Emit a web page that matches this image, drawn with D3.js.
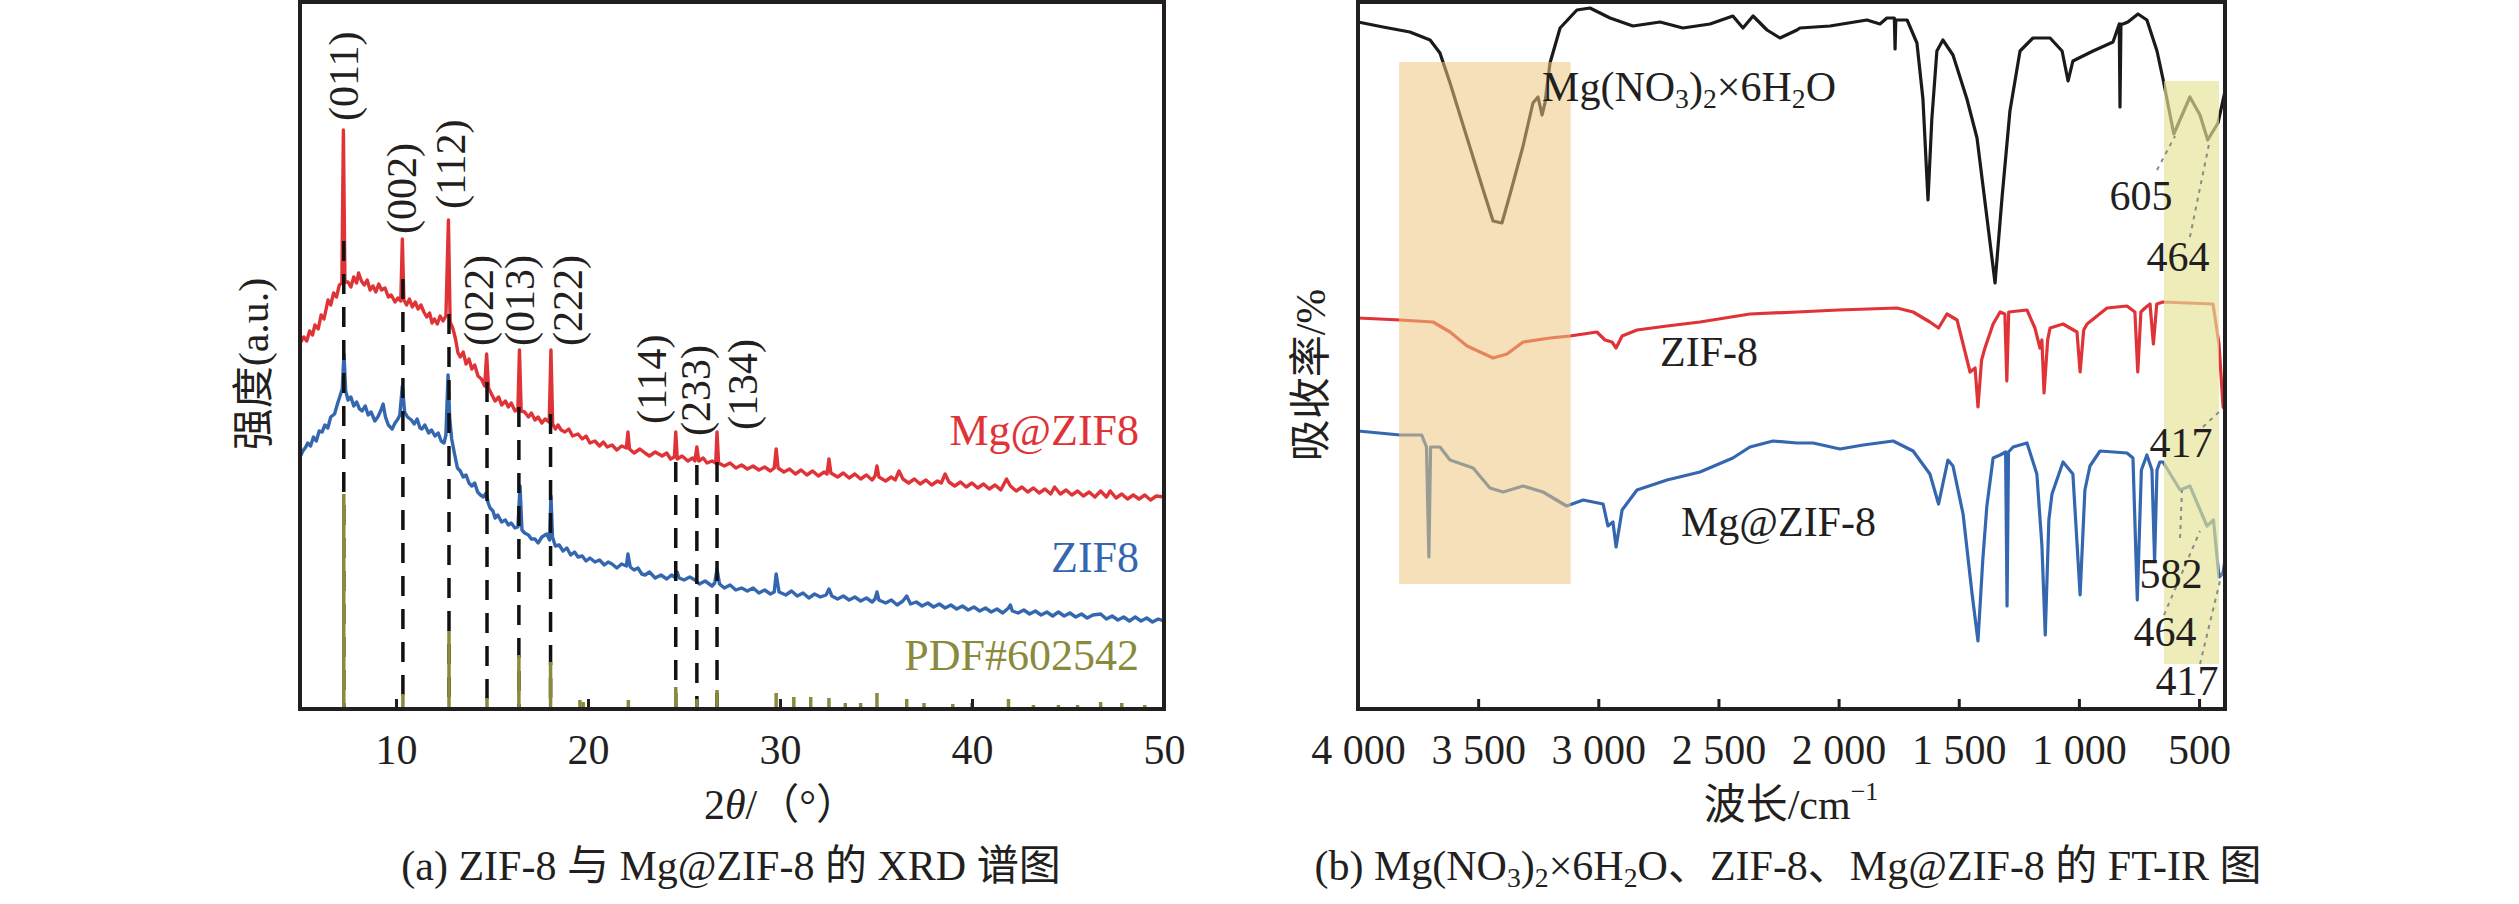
<!DOCTYPE html>
<html lang="zh">
<head>
  <meta charset="UTF-8">
  <title>XRD / FT-IR</title>
  <style>
    body { margin: 0; background: #fff; }
    svg { display: block; }
    text { font-family: "Liberation Serif", "Noto Sans CJK SC", serif; fill: #231f20; }
  </style>
  <script src="https://d3js.org/d3.v7.min.js"></script>
</head>
<body>
<script>
// ---- (a) XRD, 2theta vs intensity (a.u.) ----
var mgZif8Xrd = [[5.0,366],[5.2,372],[5.35,368],[5.5,378],[5.65,374],[5.78,384],[5.95,380],[6.1,394],[6.25,390],[6.46,409],
  [6.6,404],[6.75,416],[6.9,412],[7.05,424],[7.18,426],[7.26,579],[7.34,427],[7.5,427],[7.65,422],[7.8,432],[7.95,426],
  [8.05,436],[8.2,428],[8.35,424],[8.5,429],[8.65,419],[8.8,423],[8.95,417],[9.1,425],[9.25,419],[9.43,421],[9.6,412],
  [9.75,414],[9.95,407],[10.1,411],[10.25,408],[10.33,470],[10.41,409],[10.55,404],[10.7,410],[10.85,402],[11.0,407],
  [11.15,400],[11.3,404],[11.45,397],[11.6,392],[11.75,396],[11.88,386],[12.0,390],[12.15,385],[12.3,393],[12.45,388],
  [12.6,393],[12.73,489],[12.82,387],[12.97,380],[13.1,370],[13.23,356],[13.35,352],[13.5,357],[13.65,345],[13.8,350],
  [13.95,340],[14.1,344],[14.27,333],[14.45,330],[14.62,323],[14.72,355],[14.82,321],[15.0,314],[15.16,308],[15.35,312],
  [15.5,304],[15.7,308],[15.85,302],[16.0,306],[16.2,298],[16.35,300],[16.43,359],[16.52,298],[16.7,297],[16.9,292],
  [17.05,296],[17.24,289],[17.4,292],[17.6,286],[17.76,290],[17.98,287],[18.07,359],[18.16,285],[18.3,280],[18.44,284],
  [18.6,279],[18.8,277],[19.0,280],[19.2,273],[19.48,275],[19.7,270],[19.9,273],[20.1,266],[20.36,268],[20.6,263],
  [20.8,267],[21.0,262],[21.25,264],[21.5,259],[21.75,263],[22.0,261],[22.08,277],[22.16,260],[22.4,256],[22.7,260],
  [22.97,256],[23.2,253],[23.5,257],[23.86,253],[24.1,256],[24.3,250],[24.5,252],[24.57,277],[24.65,250],[24.9,253],
  [25.2,248],[25.45,251],[25.57,248],[25.67,262],[25.77,248],[26.0,251],[26.2,246],[26.46,248],[26.65,246],[26.72,277],
  [26.8,246],[27.1,243],[27.4,246],[27.7,241],[28.0,244],[28.3,240],[28.6,243],[28.9,239],[29.2,242],[29.5,238],[29.7,241],
  [29.8,260],[29.9,241],[30.2,237],[30.5,240],[30.8,235],[31.1,239],[31.4,234],[31.7,238],[32.0,233],[32.3,237],[32.45,235],
  [32.55,250],[32.65,236],[33.0,232],[33.3,236],[33.6,231],[33.9,235],[34.2,230],[34.5,234],[34.8,229],[34.95,233],
  [35.05,243],[35.15,232],[35.5,228],[35.8,232],[36.0,229],[36.2,238],[36.4,230],[36.7,226],[37.0,230],[37.3,225],
  [37.6,229],[37.9,224],[38.2,228],[38.4,226],[38.6,235],[38.8,227],[39.1,223],[39.4,227],[39.7,222],[40.0,226],
  [40.3,221],[40.6,225],[40.9,220],[41.2,224],[41.5,219],[41.8,230],[42.0,223],[42.3,218],[42.6,222],[42.9,217],
  [43.2,221],[43.5,216],[43.8,220],[44.1,215],[44.3,222],[44.6,215],[44.9,219],[45.2,214],[45.5,218],[45.8,213],
  [46.1,217],[46.4,212],[46.7,218],[47.0,212],[47.2,218],[47.5,211],[47.8,215],[48.1,210],[48.4,214],[48.7,210],
  [49.0,214],[49.3,209],[49.6,213],[50.0,212]];
var zif8Xrd = [[5.0,252],[5.15,258],[5.3,262],[5.4,266],[5.55,263],[5.7,272],[5.85,268],[6.0,278],[6.15,277],[6.3,284],
  [6.45,281],[6.6,292],[6.8,295],[6.95,305],[7.1,314],[7.2,320],[7.29,355],[7.38,318],[7.5,309],[7.65,312],[7.8,303],
  [7.95,307],[8.1,300],[8.23,298],[8.4,303],[8.55,294],[8.7,297],[8.9,288],[9.05,292],[9.2,298],[9.33,305],[9.45,292],
  [9.6,284],[9.8,280],[9.95,286],[10.1,290],[10.2,294],[10.33,323],[10.45,297],[10.6,292],[10.8,289],[10.95,285],
  [11.1,290],[11.25,281],[11.35,280],[11.5,284],[11.7,276],[11.85,279],[12.03,273],[12.2,276],[12.35,268],[12.5,266],
  [12.6,274],[12.71,334],[12.8,290],[12.9,270],[13.05,255],[13.2,241],[13.35,238],[13.5,232],[13.65,234],[13.8,226],
  [13.95,223],[14.1,226],[14.25,217],[14.4,214],[14.55,212],[14.7,216],[14.8,206],[14.9,201],[15.05,198],[15.16,191],
  [15.3,194],[15.5,187],[15.7,189],[15.85,184],[16.0,186],[16.2,181],[16.35,182],[16.46,223],[16.56,179],[16.7,176],
  [16.9,174],[17.05,170],[17.24,170],[17.4,166],[17.6,172],[17.85,175],[18.0,169],[18.07,213],[18.15,172],[18.3,163],
  [18.5,164],[18.7,158],[18.9,161],[19.1,154],[19.3,157],[19.48,152],[19.7,153],[19.9,148],[20.1,151],[20.36,147],
  [20.6,149],[20.85,144],[21.05,147],[21.25,145],[21.5,141],[21.75,145],[22.0,143],[22.08,155],[22.2,142],[22.4,139],
  [22.6,141],[22.8,135],[22.97,134],[23.2,137],[23.5,131],[23.8,134],[24.1,130],[24.35,134],[24.5,132],[24.64,137],
  [24.75,131],[25.0,129],[25.3,132],[25.57,129],[25.8,125],[26.1,128],[26.46,123],[26.6,126],[26.72,140],[26.85,125],
  [27.1,121],[27.4,124],[27.7,119],[28.0,121],[28.3,118],[28.6,121],[28.9,116],[29.2,119],[29.5,115],[29.7,117],
  [29.8,135],[29.95,117],[30.3,114],[30.6,118],[30.9,113],[31.2,116],[31.5,111],[31.8,115],[32.1,112],[32.4,114],
  [32.55,120],[32.7,113],[33.0,110],[33.3,113],[33.6,109],[33.9,112],[34.2,108],[34.5,111],[34.8,107],[34.95,110],
  [35.05,117],[35.15,109],[35.5,106],[35.8,109],[36.1,104],[36.4,108],[36.6,113],[36.8,105],[37.1,107],[37.4,103],
  [37.7,106],[38.0,102],[38.3,105],[38.6,101],[38.9,104],[39.2,100],[39.5,103],[39.8,99],[40.1,102],[40.4,98],
  [40.7,101],[41.0,97],[41.3,100],[41.6,96],[41.9,101],[42.0,104],[42.1,98],[42.4,96],[42.7,99],[43.0,95],[43.3,98],
  [43.6,94],[43.9,97],[44.2,93],[44.5,97],[44.8,93],[45.1,96],[45.4,92],[45.7,95],[46.0,91],[46.3,94],[46.7,95],
  [47.0,90],[47.3,93],[47.6,89],[47.9,92],[48.2,88],[48.5,92],[48.8,88],[49.1,91],[49.4,87],[49.7,90],[50.0,88]];
var pdfSticks = [[7.28,215],[10.36,15],[12.76,78],[14.74,11],[16.4,54],[18.05,47],[19.58,9],[19.75,7],[22.1,9],[24.57,22],
  [25.67,10],[26.72,19],[29.8,16],[30.72,12],[31.6,12],[32.55,11],[33.4,6],[34.2,6],[35.05,16],[36.6,10],[37.5,6],
  [39.0,5],[40.0,6],[41.9,10],[43.2,4],[44.5,4],[45.5,4],[46.7,7],[47.8,6],[49.0,4]];
var peakTheta = [7.28, 10.36, 12.76, 14.74, 16.4, 18.05, 24.57, 25.67, 26.72];
var peakTop = [468, 430, 395, 327, 302, 295, 247, 244, 247];
var hklLabels = ["(011)", "(002)", "(112)", "(022)", "(013)", "(222)", "(114)", "(233)", "(134)"];
var hklTheta = [7.28, 10.32, 12.84, 14.32, 16.45, 18.98, 23.32, 25.6, 28.06];
var hklBase = [588, 475, 500, 363, 363, 363, 285, 273, 279];
var xrdTicks = [10, 20, 30, 40, 50];
var xrdNames = ["Mg@ZIF8", "ZIF8", "PDF#602542"];
var xrdNameLevel = [279, 152, 54];

// ---- (b) FT-IR, wavenumber vs absorbance ----
var mgNitrateIr = [[4000,687],[3896,682],[3784,677],[3700,669],[3659,656],[3617,626],[3546,571],[3479,519],[3438,488],
  [3401,486],[3367,515],[3313,563],[3272,606],[3251,612],[3234,594],[3222,606],[3201,646],[3159,681],[3089,699],[3035,701],
  [2951,691],[2856,683],[2743,687],[2648,681],[2535,685],[2440,693],[2398,681],[2356,693],[2298,679],[2244,671],[2173,679],
  [2161,681],[2036,683],[1882,689],[1828,685],[1799,691],[1768,691],[1765,660],[1762,689],[1715,689],[1674,666],[1649,610],
  [1628,509],[1612,590],[1591,658],[1566,669],[1524,654],[1466,610],[1424,571],[1383,492],[1349,426],[1320,511],[1287,598],
  [1245,658],[1191,671],[1120,671],[1070,658],[1045,628],[1025,648],[941,658],[858,667],[832,685],[829,602],[825,685],
  [816,685],[796,687],[754,695],[717,689],[675,658],[650,630],[605,575],[538,612],[496,594],[464,569],[421,586],[392,618]];
var zif8Ir = [[4000,391],[3825,389],[3688,387],[3617,377],[3546,363],[3438,351],[3380,355],[3313,367],[3201,371],[3118,373],
  [3006,377],[2972,369],[2943,367],[2926,361],[2901,373],[2839,379],[2714,383],[2577,387],[2369,395],[2173,397],[2000,399],
  [1757,401],[1690,397],[1620,387],[1584,381],[1549,395],[1507,389],[1482,365],[1453,337],[1432,341],[1420,302],[1405,349],
  [1391,361],[1357,385],[1328,397],[1308,395],[1300,328],[1292,397],[1216,399],[1183,381],[1162,361],[1154,369],[1145,316],
  [1130,369],[1120,381],[1066,385],[1008,377],[995,337],[980,379],[966,385],[883,401],[800,403],[767,397],[755,337],
  [742,397],[725,401],[704,405],[690,365],[676,405],[650,407],[442,405],[417,365],[400,302],[392,299]];
var mgZif8Ir = [[4000,278],[3825,274],[3735,274],[3715,262],[3705,152],[3698,262],[3659,262],[3617,249],[3521,241],
  [3451,221],[3396,217],[3313,223],[3230,217],[3132,203],[3063,209],[2980,205],[2960,183],[2939,187],[2926,162],[2901,199],
  [2839,219],[2714,229],[2577,237],[2440,251],[2369,262],[2273,268],[2173,266],[2106,266],[1994,260],[1898,264],[1773,268],
  [1690,258],[1620,235],[1584,205],[1545,249],[1524,243],[1482,195],[1445,116],[1420,68],[1400,149],[1383,203],[1357,251],
  [1328,254],[1305,257],[1299,103],[1293,257],[1274,262],[1216,266],[1175,235],[1154,164],[1140,74],[1125,189],[1112,215],
  [1066,247],[1025,235],[995,114],[975,219],[954,243],[912,258],[800,256],[775,251],[757,109],[740,239],[717,254],
  [696,239],[685,148],[675,239],[663,247],[650,247],[579,219],[538,223],[467,183],[440,189],[417,132],[400,136],[392,149]];
var irTicks = [4000, 3500, 3000, 2500, 2000, 1500, 1000, 500];
var bandRanges = [[3829, 3115, 125, 647], [646, 417, 45, 628]];
var bandColors = ["rgb(237,199,128)", "rgb(230,227,149)"];
var bandOpacity = [0.55, 0.67];
var peakNumbers = ["605", "464", "417", "582", "464", "417"];
var peakNumberAt = [[742,513],[588,452],[575,266],[617,135],[642,77],[550,28]];
var leaderFrom = [[675,539],[538,472],[484,282],[579,171],[646,94],[496,45]];
var leaderTo = [[600,573],[455,569],[404,300],[571,219],[496,178],[404,137]];
var irNames = [
  [["Mg(NO",0],["3",1],[")",0],["2",1],["×6H",0],["2",1],["O",0]],
  [["ZIF-8",0]],
  [["Mg@ZIF-8",0]]
];
var irNameAt = [[3234,622],[2743,357],[2656,187]];

var red = "#df3337", blue = "#3467b0", olive = "#8a8a3c", ink = "#231f20";
var serif = "'Liberation Serif', 'Noto Sans CJK SC', serif";
var svg = d3.select("body").append("svg").attr("width", 2519).attr("height", 904);
svg.append("rect").attr("width", 2519).attr("height", 904).attr("fill", "#fff");

// subscripts drop by a quarter em, the next normal part comes back up
function richText(sel, parts, size) {
  var down = false;
  parts.forEach(function (p) {
    var t = sel.append("tspan").text(p[0]);
    if (p[1]) { t.attr("font-size", size * 0.66); if (!down) { t.attr("dy", size * 0.25); down = true; } }
    else if (down) { t.attr("dy", -size * 0.25); down = false; }
  });
}

// ================= panel (a) =================
var xA = d3.scaleLinear().domain([5, 50]).range([300, 1164]);
var yA = d3.scaleLinear().domain([0, 707]).range([709, 2]);
var lineA = d3.line().x(function (d) { return xA(d[0]); }).y(function (d) { return yA(d[1]); });

var ga = svg.append("g");
ga.append("path").datum(mgZif8Xrd).attr("d", lineA).attr("fill", "none")
  .attr("stroke", red).attr("stroke-width", 3.4).attr("stroke-linejoin", "round");
ga.append("path").datum(zif8Xrd).attr("d", lineA).attr("fill", "none")
  .attr("stroke", blue).attr("stroke-width", 3.4).attr("stroke-linejoin", "round");

ga.selectAll(".dash").data(peakTheta).enter().append("line")
  .attr("x1", function (d) { return xA(d); }).attr("x2", function (d) { return xA(d); })
  .attr("y1", function (d, i) { return yA(peakTop[i]); }).attr("y2", yA(0))
  .attr("stroke", "#111").attr("stroke-width", 3.5).attr("stroke-dasharray", "20,13");

ga.selectAll(".stick").data(pdfSticks).enter().append("line")
  .attr("x1", function (d) { return xA(d[0]); }).attr("x2", function (d) { return xA(d[0]); })
  .attr("y1", yA(0)).attr("y2", function (d) { return yA(d[1]); })
  .attr("stroke", olive).attr("stroke-width", 3.5);

ga.selectAll(".hkl").data(hklLabels).enter().append("text")
  .attr("transform", function (d, i) { return "translate(" + xA(hklTheta[i]) + "," + yA(hklBase[i]) + ") rotate(-90)"; })
  .attr("dominant-baseline", "central").attr("font-size", 42).text(function (d) { return d; });

ga.selectAll(".nm").data(xrdNames).enter().append("text")
  .attr("x", xA(48.7)).attr("y", function (d, i) { return yA(xrdNameLevel[i]); })
  .attr("text-anchor", "end").attr("dominant-baseline", "central").attr("font-size", 44)
  .style("fill", function (d, i) { return [red, blue, olive][i]; }).text(function (d) { return d; });

var axA = ga.append("g").attr("transform", "translate(0,709)")
  .call(d3.axisBottom(xA).tickValues(xrdTicks).tickSizeInner(-10).tickSizeOuter(0).tickPadding(25));
axA.attr("font-family", serif);
axA.select(".domain").remove();
axA.selectAll("line").attr("stroke", ink).attr("stroke-width", 3);
axA.selectAll("text").attr("font-size", 42).style("fill", ink);

ga.append("rect").attr("x", 300).attr("y", 2).attr("width", 864).attr("height", 707)
  .attr("fill", "none").attr("stroke", ink).attr("stroke-width", 4);

ga.append("text").attr("transform", "translate(254,364) rotate(-90)")
  .attr("text-anchor", "middle").attr("dominant-baseline", "central").attr("font-size", 42).text("强度(a.u.)");
var tA = ga.append("text").attr("x", 781).attr("y", 805).attr("text-anchor", "middle")
  .attr("dominant-baseline", "central").attr("font-size", 42);
tA.append("tspan").text("2");
tA.append("tspan").attr("font-style", "italic").text("θ");
tA.append("tspan").text("/（°）");
ga.append("text").attr("x", 731).attr("y", 866).attr("text-anchor", "middle")
  .attr("dominant-baseline", "central").attr("font-size", 42).text("(a) ZIF-8 与 Mg@ZIF-8 的 XRD 谱图");

// ================= panel (b) =================
var xB = d3.scaleLinear().domain([4000, 392]).range([1358, 2225]);
var yB = d3.scaleLinear().domain([0, 707]).range([709, 2]);
var lineB = d3.line().x(function (d) { return xB(d[0]); }).y(function (d) { return yB(d[1]); });

var gb = svg.append("g");
[[mgNitrateIr, "#1a1a1a"], [zif8Ir, red], [mgZif8Ir, blue]].forEach(function (s) {
  gb.append("path").datum(s[0]).attr("d", lineB).attr("fill", "none")
    .attr("stroke", s[1]).attr("stroke-width", 3.2).attr("stroke-linejoin", "round");
});

gb.selectAll(".band").data(bandRanges).enter().append("rect")
  .attr("x", function (d) { return xB(d[0]); })
  .attr("width", function (d) { return xB(d[1]) - xB(d[0]); })
  .attr("y", function (d) { return yB(d[3]); })
  .attr("height", function (d) { return yB(d[2]) - yB(d[3]); })
  .attr("fill", function (d, i) { return bandColors[i]; })
  .attr("fill-opacity", function (d, i) { return bandOpacity[i]; });

gb.selectAll(".lead").data(leaderFrom).enter().append("line")
  .attr("x1", function (d) { return xB(d[0]); }).attr("y1", function (d) { return yB(d[1]); })
  .attr("x2", function (d, i) { return xB(leaderTo[i][0]); }).attr("y2", function (d, i) { return yB(leaderTo[i][1]); })
  .attr("stroke", "#8a8a8a").attr("stroke-width", 2).attr("stroke-dasharray", "4,5");

gb.selectAll(".pn").data(peakNumbers).enter().append("text")
  .attr("x", function (d, i) { return xB(peakNumberAt[i][0]); })
  .attr("y", function (d, i) { return yB(peakNumberAt[i][1]); })
  .attr("text-anchor", "middle").attr("dominant-baseline", "central").attr("font-size", 42)
  .text(function (d) { return d; });

irNames.forEach(function (parts, i) {
  var t = gb.append("text").attr("x", xB(irNameAt[i][0])).attr("y", yB(irNameAt[i][1]))
    .attr("dominant-baseline", "central").attr("font-size", 42);
  richText(t, parts, 42);
});

var axB = gb.append("g").attr("transform", "translate(0,709)")
  .call(d3.axisBottom(xB).tickValues(irTicks).tickSizeInner(-10).tickSizeOuter(0).tickPadding(25)
    .tickFormat(function (d) { return d3.format(",")(d).replace(/,/g, " "); }));
axB.attr("font-family", serif);
axB.select(".domain").remove();
axB.selectAll("line").attr("stroke", ink).attr("stroke-width", 3);
axB.selectAll("text").attr("font-size", 42).style("fill", ink);

gb.append("rect").attr("x", 1358).attr("y", 2).attr("width", 867).attr("height", 707)
  .attr("fill", "none").attr("stroke", ink).attr("stroke-width", 4);

gb.append("text").attr("transform", "translate(1311,375) rotate(-90)")
  .attr("text-anchor", "middle").attr("dominant-baseline", "central").attr("font-size", 42).text("吸收率/%");
var tB = gb.append("text").attr("x", 1791).attr("y", 805).attr("text-anchor", "middle")
  .attr("dominant-baseline", "central").attr("font-size", 42);
tB.append("tspan").text("波长/cm");
tB.append("tspan").attr("font-size", 26).attr("dy", -14).text("−1");
var capB = gb.append("text").attr("x", 1788).attr("y", 866).attr("text-anchor", "middle")
  .attr("dominant-baseline", "central").attr("font-size", 42);
richText(capB, [["(b) Mg(NO",0],["3",1],[")",0],["2",1],["×6H",0],["2",1],["O、ZIF-8、Mg@ZIF-8 的 FT-IR 图",0]], 42);
</script>
</body>
</html>
